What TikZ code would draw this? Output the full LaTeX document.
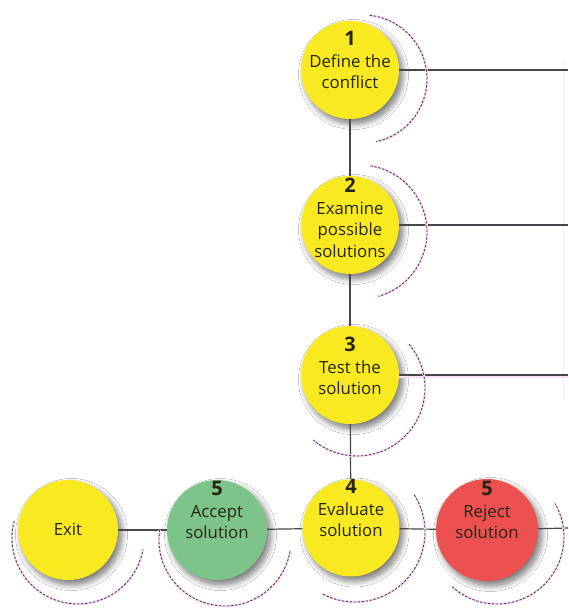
\documentclass[tikz,border=0pt]{standalone}
\usepackage{fontspec}
\setmainfont{Open Sans}
\usetikzlibrary{shadows.blur}

\definecolor{discyellow}{RGB}{248,233,32}
\definecolor{discgreen}{RGB}{124,196,138}
\definecolor{discred}{RGB}{236,80,80}
\definecolor{linkgray}{RGB}{72,70,74}
\definecolor{arcink}{RGB}{84,52,90}
\definecolor{arcglowc}{RGB}{250,222,246}
\definecolor{labelink}{RGB}{38,36,20}

\tikzset{
  disc/.style={circle, minimum size=#1, inner sep=0pt, draw=none,
    blur shadow={shadow xshift=3.5pt, shadow yshift=-4.5pt, shadow blur steps=12,
                 shadow opacity=55, shadow blur radius=6pt}},
  steplabel/.style={align=center, inner sep=0pt, text=labelink,
    font=\fontsize{16.8}{21.5}\selectfont},
  link/.style={draw=linkgray, line width=1.2pt},
  linkglow/.style={draw=arcglowc, line width=3pt},
  arcglow/.style={draw=arcglowc, line width=2.4pt},
  arcdash/.style={draw=arcink, line width=0.85pt, dash pattern=on 2.4pt off 1.6pt},
}

% dashed return arc with a soft pink glow: centre x, centre y, radius, start, end
\newcommand\ringarc[5]{%
  \draw[arcglow] (#1,#2) ++(#4:#3) arc[start angle=#4, end angle=#5, radius=#3];
  \draw[arcdash] (#1,#2) ++(#4:#3) arc[start angle=#4, end angle=#5, radius=#3];
}
\newcommand\stepnum[1]{{\fontsize{20}{21}\selectfont\bfseries #1}}

\begin{document}
\begin{tikzpicture}[x=1pt, y=1pt]
  \useasboundingbox[fill=white] (0,0) rectangle (568,-612);

  % right-hand edge coordinates
  \coordinate (e1) at (568,-70);
  \coordinate (e2) at (568,-225);
  \coordinate (e3) at (568,-375);
  \coordinate (e4) at (568,-528);
  \coordinate (rimtop) at (563,-58);
  \coordinate (rimbot) at (563,-400);
  \draw[draw=black!5, line width=1pt] (rimtop) -- (rimbot);

  % discs
  \node[disc=98pt, fill=discyellow] (c1) at (350,-70) {};
  \node[disc=98pt, fill=discyellow] (c2) at (350,-225) {};
  \node[disc=98pt, fill=discyellow] (c3) at (350,-375) {};
  \node[disc=97pt, fill=discyellow] (c4) at (351,-528) {};
  \node[disc=102pt, fill=discred] (rej) at (487,-530) {};
  \node[disc=100pt, fill=discgreen] (acc) at (217,-530) {};
  \node[disc=100pt, fill=discyellow] (exit) at (68,-530) {};

  % connectors
  \draw[linkglow] ([yshift=-1.5pt]c3.east) -- ([yshift=-1.5pt]e3);
  \draw[link] (c1) -- (e1);
  \draw[link] (c2) -- (e2);
  \draw[link] (c3) -- (e3);
  \draw[link] (c1) -- (c2);
  \draw[link] (c2) -- (c3);
  \draw[link] (c3) -- (c4);
  \draw[link] (exit) -- (acc);
  \draw[link] (acc) -- (c4);
  \draw[link] (c4) -- (rej);
  \draw[link] (rej) -- (e4);

  % return arcs around the steps
  \ringarc{363}{-79}{64}{84}{-78}
  \ringarc{360}{-232}{67}{81}{-74}
  \ringarc{357}{-388}{68}{40}{-130}
  \ringarc{355}{-532}{70}{32}{-118}
  \ringarc{497}{-537}{67}{-132}{30}
  \ringarc{78}{-538}{66}{165}{350}
  \ringarc{225}{-540}{66}{171}{351}

  % labels
  \node[steplabel] (t1) at (350,-60) {\stepnum{1}\\Define the\\conflict};
  \node[steplabel] (t2) at (350,-218) {\stepnum{2}\\Examine\\possible\\solutions};
  \node[steplabel] (t3) at (350,-366) {\stepnum{3}\\Test the\\solution};
  \node[steplabel] (t4) at (351,-508) {\stepnum{4}\\Evaluate\\solution};
  \node[steplabel] (tacc) at (217,-510) {\stepnum{5}\\Accept\\solution};
  \node[steplabel] (trej) at (487,-510) {\stepnum{5}\\Reject\\solution};
  \node[steplabel] (texit) at (68,-529) {Exit};
\end{tikzpicture}
\end{document}
